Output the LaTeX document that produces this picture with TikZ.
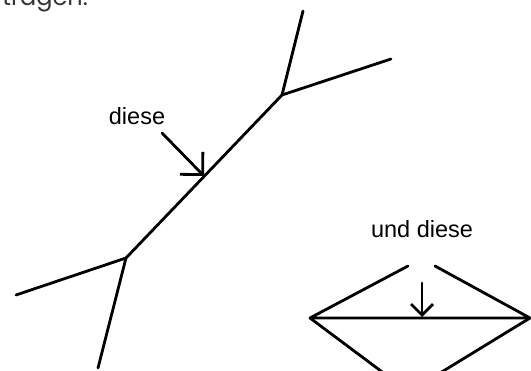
\documentclass[tikz,border=0pt]{standalone}
\usepackage{fontspec}
\setmainfont{Liberation Sans}
\newfontfamily\headfont{Poppins}
\usetikzlibrary{arrows.meta}
\begin{document}
\begin{tikzpicture}[x=1pt,y=-1pt,
  stroke/.style={line width=2.8pt,line cap=round,line join=round},
  pointer/.style={stroke,-{Straight Barb[length=16pt,width=32pt,line width=2.8pt]}},
  smallpointer/.style={stroke,-{Straight Barb[length=11pt,width=22pt,line width=2.8pt]}},
  lab/.style={font=\fontsize{23.5}{27}\selectfont,inner sep=0pt,anchor=base}]
\useasboundingbox (0,0) rectangle (531,371);
\clip (0,0) rectangle (531,371);

% heading line, only its lower edge shows
\node[font=\headfont\fontsize{24}{28}\selectfont,text=black!80,inner sep=0pt,anchor=base east] (head) at (88,6) {tragen.};

% the long edge with a fork at each end
\coordinate (jt) at (282,95);
\coordinate (jb) at (126,258);
\coordinate (t1) at (303,11);
\coordinate (t2) at (391,59);
\coordinate (b1) at (16,295);
\coordinate (b2) at (98,368);
\draw[stroke] (t1) -- (jt) -- (t2);
\draw[stroke] (jt) -- (jb);
\draw[stroke] (b1) -- (jb) -- (b2);

% first label and its pointer
\node[lab] (l1) at (137,125) {diese};
\coordinate (a1s) at (162,133);
\coordinate (a1e) at (204,176);
\draw[pointer] (a1s) -- (a1e);

% the open diamond with its diagonal
\coordinate (dl) at (310,318);
\coordinate (dr) at (530,318);
\coordinate (dtl) at (408,266);
\coordinate (dtr) at (435,266);
\coordinate (db) at (409,392);
\draw[stroke] (dtl) -- (dl) -- (dr) -- (dtr);
\draw[stroke] (dl) -- (db) -- (dr);

% second label and its pointer
\node[lab] (l2) at (422,238) {und diese};
\coordinate (a2s) at (422,283);
\coordinate (a2e) at (422,317);
\draw[smallpointer] (a2s) -- (a2e);
\end{tikzpicture}
\end{document}
